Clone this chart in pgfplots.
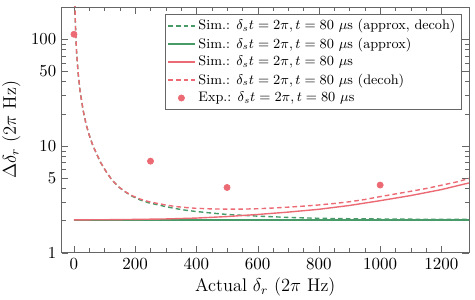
\documentclass[border=0pt]{standalone}
\usepackage{pgfplots}
\pgfplotsset{compat=1.18}
\definecolor{redc}{RGB}{236,106,116}
\definecolor{greenc}{RGB}{72,155,105}
\begin{document}
\begin{tikzpicture}
\begin{axis}[
  scale only axis, width=262.7pt, height=158.5pt,
  ymode=log, xmin=-40, xmax=1290, ymin=1, ymax=200,
  xtick={0,200,...,1200}, minor x tick num=3,
  /pgf/number format/1000 sep={},
  ytick={1,5,10,50,100}, yticklabels={1,5,10,50,100},
  minor ytick={2,3,4,6,7,8,9,20,30,40,60,70,80,90,200},
  axis line style={black!60}, tick style={black!60},
  tick label style={font=\fontsize{10.8}{13}\selectfont},
  label style={font=\fontsize{11.8}{14}\selectfont},
  xlabel={Actual $\delta_r$ ($2\pi$ Hz)},
  ylabel={$\Delta\delta_r$ ($2\pi$ Hz)},
  xlabel style={yshift=1pt},
  legend cell align=left,
  legend style={at={(0.981,0.972)}, anchor=north east, font=\fontsize{8.9}{10}\selectfont,
    draw=black!60, inner sep=1.5pt, row sep=-0.4pt},
]
\addplot[greenc, line width=0.9pt, dash pattern=on 3pt off 2pt] coordinates {
(2.5,260)(3.3,197)(4.5,145)(6.5,100)(9,72)(14,47)(20,32.5)(30,21.5)(40,15.8)(50,12.6)(61,10.2)(75,8.3)(87,7.0)(105,5.75)(124,4.8)(145,4.15)(168,3.7)(190,3.38)(216,3.12)(245,2.93)(276,2.8)(305,2.68)(335,2.58)(365,2.5)(394,2.44)(450,2.35)(500,2.28)(550,2.24)(600,2.2)(650,2.17)(700,2.14)(750,2.12)(800,2.1)(900,2.08)(1000,2.07)(1100,2.06)(1200,2.05)(1290,2.05)
};
\addlegendentry{Sim.: $\delta_s t = 2\pi, t = 80~\mu$s (approx, decoh)}
\addplot[greenc, line width=0.9pt] coordinates {
(0,2.03)(200,2.03)(400,2.03)(600,2.03)(800,2.03)(1000,2.03)(1200,2.03)(1290,2.03)
};
\addlegendentry{Sim.: $\delta_s t = 2\pi, t = 80~\mu$s (approx)}
\addplot[redc, line width=0.9pt] coordinates {
(0,2.03)(100,2.035)(200,2.05)(300,2.07)(400,2.11)(500,2.18)(600,2.28)(700,2.4)(800,2.55)(900,2.77)(1000,3.07)(1100,3.43)(1200,3.9)(1290,4.5)
};
\addlegendentry{Sim.: $\delta_s t = 2\pi, t = 80~\mu$s}
\addplot[redc, line width=0.9pt, dash pattern=on 3pt off 2pt] coordinates {
(2.5,260)(3.3,197)(4.5,145)(6.5,100)(9,72)(14,47)(20,32.5)(30,21.5)(40,15.8)(50,12.6)(61,10.2)(75,8.3)(87,7.0)(105,5.75)(124,4.8)(145,4.15)(168,3.72)(190,3.42)(216,3.18)(245,3.0)(276,2.88)(305,2.78)(335,2.7)(365,2.65)(394,2.61)(450,2.57)(500,2.56)(550,2.56)(600,2.58)(650,2.62)(700,2.67)(750,2.73)(800,2.8)(850,2.89)(900,3.0)(950,3.15)(1000,3.35)(1050,3.55)(1100,3.76)(1150,3.99)(1200,4.28)(1250,4.6)(1290,4.95)
};
\addlegendentry{Sim.: $\delta_s t = 2\pi, t = 80~\mu$s (decoh)}
\addplot[only marks, mark=*, mark size=2pt, redc, mark options={draw=none, fill=redc}] coordinates {
(0,111)(250,7.2)(500,4.08)(1000,4.3)
};
\addlegendentry{Exp.: $\delta_s t = 2\pi, t = 80~\mu$s}
\end{axis}
\pgfresetboundingbox
\path[use as bounding box] ([xshift=-39.8pt,yshift=-30.5pt]current axis.south west) rectangle ([xshift=3.9pt,yshift=4.5pt]current axis.north east);
\end{tikzpicture}
\end{document}
